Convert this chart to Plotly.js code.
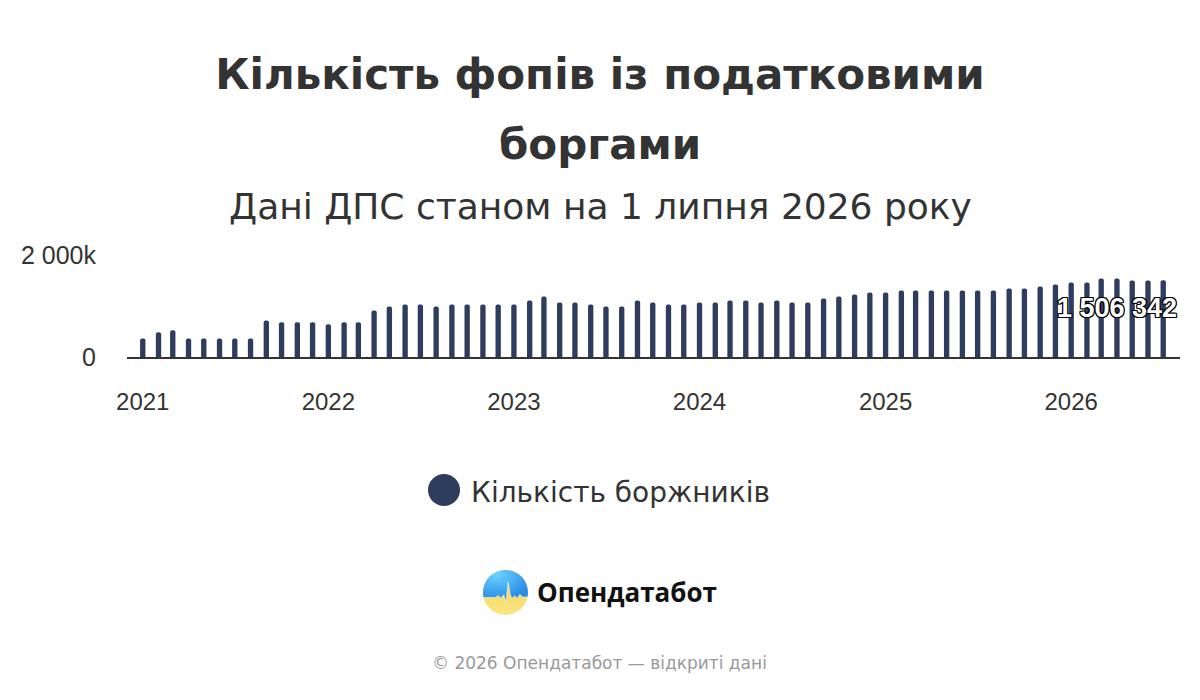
<!DOCTYPE html>
<html>
<head>
<meta charset="utf-8">
<script src="https://cdn.plot.ly/plotly-3.0.1.min.js"></script>
<style>
  html, body { margin: 0; padding: 0; background: #fff; }
  #chart { width: 1200px; height: 700px; }
</style>
</head>
<body>
<div id="chart"></div>
<script>
// Кількість ФОП-боржників на 1 число кожного місяця (з графіка)
const debts2021 = [361000, 485000, 525000, 361000, 361000, 361000, 361000, 361000, 715000, 682000, 682000, 682000];
const debts2022 = [643000, 682000, 682000, 911000, 990000, 1030000, 1030000, 990000, 1030000, 1030000, 1030000, 1030000];
const debts2023 = [1030000, 1108000, 1187000, 1069000, 1069000, 1030000, 990000, 990000, 1108000, 1069000, 1030000, 1030000];
const debts2024 = [1069000, 1069000, 1108000, 1108000, 1069000, 1108000, 1069000, 1069000, 1148000, 1187000, 1226000, 1266000];
const debts2025 = [1266000, 1305000, 1305000, 1305000, 1305000, 1305000, 1305000, 1305000, 1344000, 1344000, 1384000, 1423000];
const debts2026 = [1462000, 1462000, 1541000, 1541000, 1502000, 1502000, 1506342];

const years = [2021, 2022, 2023, 2024, 2025, 2026];
const yearTickLabels = ['2021', '2022', '2023', '2024', '2025', '2026'];
const yTickVals = [0, 2000000];
const yTickLabels = ['0', '2 000k'];
const seriesName = 'Кількість боржників';

// months + values
let months = [];
let values = [];
[debts2021, debts2022, debts2023, debts2024, debts2025, debts2026].forEach(function (arr, i) {
    for (let m = 0; m < arr.length; m++) {
        months.push(years[i] + '-' + String(m + 1).padStart(2, '0') + '-01');
        values.push(arr[m]);
    }
});
const lastMonth = months[months.length - 1];
const lastValue = values[values.length - 1];

// plot area in pixels, used to place texts around it
const plotL = 127, plotR = 1180, plotT = 255, plotB = 357;
const px = p => (p - plotL) / (plotR - plotL);
const py = p => (plotB - p) / (plotB - plotT);

const FONT = 'Liberation Sans, Arial, Helvetica, sans-serif';
const TEXT_FONT = 'DejaVu Sans, Liberation Sans, sans-serif';
const NAVY = '#2e3d5e';

let trace = {
    x: months,
    y: values,
    type: 'bar',
    name: seriesName,
    width: 10.5 * 86400000,
    marker: { color: NAVY, cornerradius: 3 },
    hovertemplate: '%{x|%m.%Y}: %{y:,}<extra></extra>',
    showlegend: false
};

const logoSvg = "<svg xmlns='http://www.w3.org/2000/svg' viewBox='0 0 100 100'>" +
    "<defs>" +
    "<radialGradient id='b' cx='0.3' cy='0.15' r='0.8'><stop offset='0' stop-color='#6ad3ff'/><stop offset='1' stop-color='#2a8ce6'/></radialGradient>" +
    "<linearGradient id='g' x1='0' y1='0' x2='0' y2='1'><stop offset='0' stop-color='#f2cf3c'/><stop offset='1' stop-color='#f9e68a'/></linearGradient>" +
    "<clipPath id='c'><circle cx='50' cy='50' r='50'/></clipPath>" +
    "</defs>" +
    "<g clip-path='url(#c)'>" +
    "<rect width='100' height='100' fill='url(#g)'/>" +
    "<path d='M0 0 H100 V60 L88 60 L82 54 L76 63 L70 57 L64 64 L60 52 L56 26 L51 70 L46 55 L40 63 L34 57 L27 61 L0 61 Z' fill='url(#b)'/>" +
    "<path d='M0 61 L27 61 L34 57 L40 63 L46 55 L51 70 L56 26 L60 52 L64 64 L70 57 L76 63 L82 54 L88 60 L100 60' fill='none' stroke='#ffffff' stroke-opacity='0.6' stroke-width='2'/>" +
    "</g></svg>";

let layout = {
    width: 1200,
    height: 700,
    paper_bgcolor: '#ffffff',
    plot_bgcolor: '#ffffff',
    margin: { l: plotL, r: 1200 - plotR, t: plotT, b: 700 - plotB },
    font: { family: FONT, color: '#333333' },
    title: {
        text: 'Кількість фопів із податковими',
        font: { family: TEXT_FONT, size: 42, color: '#333333', weight: 700 },
        xref: 'container', x: 0.5, xanchor: 'center',
        yref: 'container', y: 1 - 74 / 700, yanchor: 'middle'
    },
    showlegend: false,
    xaxis: {
        type: 'date',
        range: ['2020-12-01', '2026-08-03'],
        tickvals: years.map(y => y + '-01-01'),
        ticktext: yearTickLabels,
        showgrid: false,
        zeroline: false,
        showline: true,
        linecolor: '#333333',
        linewidth: 2,
        ticks: '',
        ticklabelstandoff: 22,
        tickfont: { family: FONT, size: 24, color: '#333333' },
        fixedrange: true
    },
    yaxis: {
        range: [0, 2000000],
        tickvals: yTickVals,
        ticktext: yTickLabels,
        showgrid: true,
        gridcolor: '#e6e6e6',
        gridwidth: 1,
        zeroline: false,
        showline: false,
        ticks: '',
        ticklabelstandoff: 30,
        tickfont: { family: FONT, size: 25, color: '#333333' },
        fixedrange: true
    },
    annotations: [
        {
            text: 'боргами', xref: 'paper', yref: 'paper', x: px(600), y: py(144),
            xanchor: 'center', yanchor: 'middle', showarrow: false,
            font: { family: TEXT_FONT, size: 42, color: '#333333', weight: 700 }
        },
        {
            text: 'Дані ДПС станом на 1 липня 2026 року', xref: 'paper', yref: 'paper', x: px(600), y: py(206),
            xanchor: 'center', yanchor: 'middle', showarrow: false,
            font: { family: TEXT_FONT, size: 36, color: '#333333' }
        },
        {
            // підпис останнього значення
            text: lastValue.toLocaleString('en-US').replace(/,/g, ' '),
            xref: 'x', yref: 'y', x: lastMonth, y: lastValue,
            xanchor: 'right', yanchor: 'middle', xshift: 16, yshift: -28,
            showarrow: false,
            font: { family: FONT, size: 27, color: '#ffffff', weight: 700,
                    shadow: '1px 1px 0 #000, -1px -1px 0 #000, 1px -1px 0 #000, -1px 1px 0 #000, 0 1px 0 #000, 0 -1px 0 #000, 1px 0 0 #000, -1px 0 0 #000' }
        },
        {
            text: seriesName, xref: 'paper', yref: 'paper', x: px(469), y: py(492),
            xanchor: 'left', yanchor: 'middle', showarrow: false,
            font: { family: TEXT_FONT, size: 28, color: '#333333' }
        },
        {
            text: 'Опендатабот', xref: 'paper', yref: 'paper', x: px(535), y: py(592),
            xanchor: 'left', yanchor: 'middle', showarrow: false,
            font: { family: 'Open Sans, Noto Sans, sans-serif', size: 26, color: '#111111', weight: 700 }
        },
        {
            text: '© 2026 Опендатабот — відкриті дані', xref: 'paper', yref: 'paper', x: px(599), y: py(663),
            xanchor: 'center', yanchor: 'middle', showarrow: false,
            font: { family: TEXT_FONT, size: 17, color: '#999999' }
        }
    ],
    shapes: [
        {
            // маркер легенди
            type: 'circle', xref: 'paper', yref: 'paper',
            x0: px(428), x1: px(460), y0: py(506), y1: py(474),
            fillcolor: NAVY, line: { width: 0 }
        }
    ],
    images: [
        {
            source: 'data:image/svg+xml;charset=utf-8,' + encodeURIComponent(logoSvg),
            xref: 'paper', yref: 'paper', x: px(483), y: py(570),
            sizex: 45 / (plotR - plotL), sizey: 45 / (plotB - plotT),
            xanchor: 'left', yanchor: 'top', sizing: 'stretch', layer: 'above'
        }
    ]
};

Plotly.newPlot('chart', [trace], layout, { displayModeBar: false, staticPlot: true });
</script>
</body>
</html>
